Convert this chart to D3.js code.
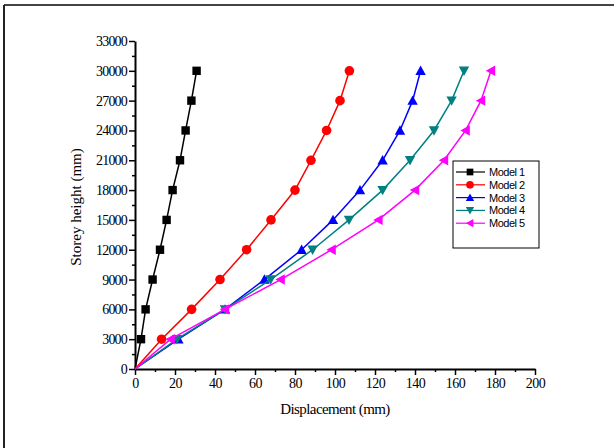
<!DOCTYPE html>
<html>
<head>
<meta charset="utf-8">
<script src="https://d3js.org/d3.v7.min.js"></script>
<style>
  body { margin: 0; background: #fff; }
  .tick text { font-family: "Liberation Serif", "Times New Roman", serif; font-size: 14px; }
  .axis-label { font-family: "Liberation Serif", "Times New Roman", serif; font-size: 15px; fill: #000; }
  .legend text { font-family: "Liberation Sans", Arial, sans-serif; font-size: 11px; }
</style>
</head>
<body>
<div id="chart"></div>
<script>
const width = 614,
  height = 448,
  margin = { top: 41, bottom: 79, left: 135, right: 79 };

// storey heights shared by every model (mm)
const storeys = [0, 3000, 6000, 9000, 12000, 15000, 18000, 21000, 24000, 27000, 30000];

// lateral displacement at each storey (mm)
const model1 = [0, 3.0, 5.3, 8.8, 12.5, 15.8, 18.8, 22.5, 25.3, 28.2, 30.8];
const model2 = [0, 13.3, 28.3, 42.5, 55.8, 68, 80, 88, 95.8, 102.5, 107.2];
const model3 = [0, 21.7, 45, 64.7, 83.3, 99, 112.5, 123.8, 132.5, 138.8, 142.8];
const model4 = [0, 21, 45, 67.8, 88.8, 107, 123.8, 137.5, 149.5, 158.3, 164.5];
const model5 = [0, 17.8, 45, 72.8, 98.3, 121.7, 140, 154.5, 165.3, 173, 178];

const seriesNames = ["Model 1", "Model 2", "Model 3", "Model 4", "Model 5"];
const colors = ["#000000", "#ff0000", "#0000ff", "#008080", "#ff00ff"];
const xTicks = d3.range(0, 201, 20);
const yTicks = d3.range(0, 33001, 3000);

const series = [model1, model2, model3, model4, model5].map((vals, i) => ({
  name: seriesNames[i],
  color: colors[i],
  points: vals.map((v, j) => ({ x: v, y: storeys[j] }))
}));

const svg = d3.select("#chart")
  .append("svg")
  .attr("width", width)
  .attr("height", height);

// page frame, top and left edges only
svg.append("line").attr("x1", 4).attr("x2", width).attr("y1", 5).attr("y2", 5)
  .attr("stroke", "#444").attr("stroke-width", 2);
svg.append("line").attr("x1", 4).attr("x2", 4).attr("y1", 5).attr("y2", height)
  .attr("stroke", "#222").attr("stroke-width", 2);

const xScale = d3.scaleLinear()
  .domain([0, 200])
  .range([margin.left, width - margin.right]);

const yScale = d3.scaleLinear()
  .domain([0, 33000])
  .range([height - margin.bottom, margin.top]);

// minor ticks first, majors drawn on top
svg.append("g")
  .attr("transform", `translate(0,${height - margin.bottom})`)
  .call(d3.axisBottom(xScale).tickValues(d3.range(10, 200, 20)).tickSize(3).tickFormat(""))
  .call(g => g.select(".domain").remove())
  .call(g => g.selectAll("line").attr("stroke-width", 1.5));

svg.append("g")
  .attr("transform", `translate(${margin.left},0)`)
  .call(d3.axisLeft(yScale).tickValues(d3.range(1500, 33000, 3000)).tickSize(3).tickFormat(""))
  .call(g => g.select(".domain").remove())
  .call(g => g.selectAll("line").attr("stroke-width", 1.5));

svg.append("g")
  .attr("class", "axis x-axis")
  .attr("transform", `translate(0,${height - margin.bottom})`)
  .call(d3.axisBottom(xScale).tickValues(xTicks).tickSize(6).tickSizeOuter(0).tickPadding(3).tickFormat(d3.format("d")))
  .call(g => g.select(".domain").attr("stroke-width", 2))
  .call(g => g.selectAll(".tick line").attr("stroke-width", 1.5))
  .call(g => g.selectAll(".tick text").attr("letter-spacing", "-0.5px"));

svg.append("g")
  .attr("class", "axis y-axis")
  .attr("transform", `translate(${margin.left},0)`)
  .call(d3.axisLeft(yScale).tickValues(yTicks).tickSize(6).tickSizeOuter(0).tickPadding(2).tickFormat(d3.format("d")))
  .call(g => g.select(".domain").attr("stroke-width", 2))
  .call(g => g.selectAll(".tick line").attr("stroke-width", 1.5))
  .call(g => g.selectAll(".tick text").attr("letter-spacing", "-0.8px"));

svg.append("text")
  .attr("class", "axis-label")
  .attr("x", (margin.left + width - margin.right) / 2)
  .attr("y", 414)
  .attr("text-anchor", "middle")
  .attr("letter-spacing", "-0.6px")
  .text("Displacement (mm)");

svg.append("text")
  .attr("class", "axis-label")
  .attr("transform", `translate(81,${(margin.top + height - margin.bottom) / 2 + 2}) rotate(-90)`)
  .attr("text-anchor", "middle")
  .text("Storey height (mm)");

const line = d3.line().x(d => xScale(d.x)).y(d => yScale(d.y));

// marker shapes: square, circle, up / down / left triangles
function marker(sel, i) {
  const s = 4.2;
  if (i === 0) {
    sel.append("rect").attr("x", -s).attr("y", -s).attr("width", 2 * s).attr("height", 2 * s);
  } else if (i === 1) {
    sel.append("circle").attr("r", s + 0.6);
  } else {
    const tri = {
      2: [[0, -s - 1], [s + 1, s], [-s - 1, s]],
      3: [[-s - 1, -s], [s + 1, -s], [0, s + 1]],
      4: [[-s - 1, 0], [s, -s - 1], [s, s + 1]]
    }[i];
    sel.append("path").attr("d", "M" + tri.join("L") + "Z");
  }
}

series.forEach((s, i) => {
  svg.append("path")
    .datum(s.points)
    .attr("fill", "none")
    .attr("stroke", s.color)
    .attr("stroke-width", 1.5)
    .attr("d", line);

  svg.selectAll(".pt" + i)
    .data(s.points.slice(1))
    .join("g")
    .attr("class", "pt" + i)
    .attr("transform", d => `translate(${xScale(d.x)},${yScale(d.y)})`)
    .attr("fill", s.color)
    .each(function () { marker(d3.select(this), i); });
});

// legend
const legend = svg.append("g")
  .attr("class", "legend")
  .attr("transform", "translate(453,161)");

legend.append("rect")
  .attr("width", 86)
  .attr("height", 87)
  .attr("fill", "#fff")
  .attr("stroke", "#000")
  .attr("stroke-width", 1);

series.forEach((s, i) => {
  const row = legend.append("g").attr("transform", `translate(0,${11 + i * 12.8})`);
  row.append("line").attr("x1", 3).attr("x2", 32).attr("stroke", s.color).attr("stroke-width", 1.2);
  const m = row.append("g").attr("transform", "translate(17,0) scale(0.8)").attr("fill", s.color);
  marker(m, i);
  row.append("text")
    .attr("x", 36)
    .attr("y", 4)
    .attr("letter-spacing", "-0.5px")
    .text(s.name);
});
</script>
</body>
</html>
